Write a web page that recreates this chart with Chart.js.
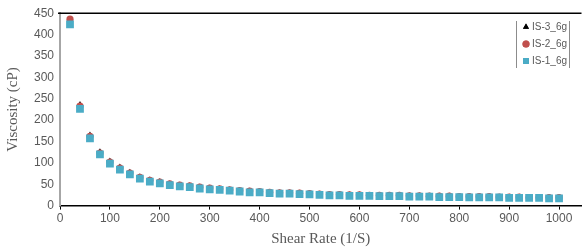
<!DOCTYPE html>
<html>
<head>
<meta charset="utf-8">
<script src="https://cdn.jsdelivr.net/npm/chart.js@4"></script>
<style>
  body { margin: 0; background: #fff; }
</style>
</head>
<body>
<canvas id="myChart" width="587" height="250"></canvas>
<script>
// Shear rate points (1/S)
const shearRates = [20, 40, 60, 80, 100, 120, 140, 160, 180, 200, 220, 240, 260, 280, 300, 320, 340, 360, 380, 400,
    420, 440, 460, 480, 500, 520, 540, 560, 580, 600, 620, 640, 660, 680, 700, 720, 740, 760, 780, 800,
    820, 840, 860, 880, 900, 920, 940, 960, 980, 1000];

// Viscosity (cP) per sample
const is1 = [424, 226, 157, 120, 98, 84, 73, 63, 56, 52, 48, 45, 43, 40, 38, 37, 35, 33, 31, 31,
    29, 28, 28, 27, 26, 25, 24, 24, 23, 23, 23, 22, 22, 22, 21, 21, 21, 20, 20, 20,
    19, 19, 19, 19, 18, 18, 18, 18, 17, 17];
const is2 = [436, 233, 162, 123, 102, 88, 76, 66, 59, 55, 51, 48, 46, 43, 41, 39, 37, 35, 34, 33,
    31, 30, 30, 29, 28, 27, 26, 26, 25, 25, 24, 24, 24, 24, 23, 23, 22, 22, 22, 21,
    21, 21, 21, 20, 20, 20, 19, 19, 19, 19];
const is3 = [434, 236, 165, 126, 104, 90, 78, 67, 60, 56, 51, 48, 46, 43, 41, 39, 37, 35, 34, 33,
    31, 30, 30, 29, 28, 27, 26, 26, 25, 25, 24, 24, 24, 24, 23, 23, 22, 22, 22, 21,
    21, 21, 21, 20, 20, 20, 19, 19, 19, 19];

const seriesNames = ['IS-1_6g', 'IS-2_6g', 'IS-3_6g'];
const xTicks = [0, 100, 200, 300, 400, 500, 600, 700, 800, 900, 1000];

const toPoints = vals => vals.map((v, i) => ({ x: shearRates[i], y: v }));

// Draws the top border and the boxed legend inside the plot
const extras = {
    id: 'extras',
    afterDraw(chart) {
        const ctx = chart.ctx;
        const area = chart.chartArea;
        ctx.save();
        ctx.strokeStyle = '#000';
        ctx.lineWidth = 1.5;
        ctx.beginPath();
        ctx.moveTo(area.left - 2, area.top);
        ctx.lineTo(area.right, area.top);
        ctx.stroke();

        // legend box
        const bx0 = 516, bx1 = 569, by0 = 21, by1 = 68;
        ctx.strokeStyle = '#8c8c8c';
        ctx.lineWidth = 1;
        ctx.beginPath();
        ctx.moveTo(bx0 + 0.5, by0); ctx.lineTo(bx0 + 0.5, by1);
        ctx.moveTo(bx1 + 0.5, by0); ctx.lineTo(bx1 + 0.5, by1);
        ctx.stroke();

        const items = chart.data.datasets.slice().reverse();
        ctx.font = '10px "Liberation Sans"';
        ctx.textBaseline = 'middle';
        items.forEach((ds, i) => {
            const y = 27 + i * 17;
            ctx.fillStyle = ds.backgroundColor;
            Chart.helpers.drawPoint(ctx, {
                pointStyle: ds.pointStyle,
                radius: ds.pointStyle === 'rect' ? 4.2 : 3.5,
                borderWidth: 0
            }, 526, y);
            ctx.fill();
            ctx.fillStyle = '#595959';
            ctx.fillText(ds.label, 532, y);
        });
        ctx.restore();
    }
};

document.addEventListener("DOMContentLoaded", function() {
    const ctx = document.getElementById('myChart').getContext('2d');
    const myChart = new Chart(ctx, {
        type: 'scatter',
        data: {
            datasets: [
                {
                    label: seriesNames[0],
                    data: toPoints(is1),
                    pointStyle: 'rect',
                    pointRadius: 5.5,
                    backgroundColor: '#4bacc6',
                    borderColor: '#4bacc6',
                    borderWidth: 0
                },
                {
                    label: seriesNames[1],
                    data: toPoints(is2),
                    pointStyle: 'circle',
                    pointRadius: 3.6,
                    backgroundColor: '#c0504d',
                    borderColor: '#c0504d',
                    borderWidth: 0
                },
                {
                    label: seriesNames[2],
                    data: toPoints(is3),
                    pointStyle: 'triangle',
                    pointRadius: 3.6,
                    backgroundColor: '#000000',
                    borderColor: '#000000',
                    borderWidth: 0
                }
            ]
        },
        options: {
            responsive: false,
            animation: false,
            layout: { padding: { top: 10, right: 0, left: 4, bottom: 2 } },
            plugins: {
                legend: { display: false },
                tooltip: { enabled: false }
            },
            scales: {
                x: {
                    type: 'linear',
                    min: 0,
                    max: 1045,
                    afterBuildTicks: axis => { axis.ticks = xTicks.map(v => ({ value: v })); },
                    grid: { drawOnChartArea: false, color: '#000', tickLength: 4 },
                    border: { color: '#000', width: 1.5 },
                    ticks: {
                        color: '#595959',
                        font: { family: 'Liberation Sans', size: 12 },
                        padding: 2,
                        maxRotation: 0,
                        callback: v => String(v)
                    },
                    title: {
                        display: true,
                        text: 'Shear Rate (1/S)',
                        color: '#595959',
                        font: { family: 'Liberation Serif', size: 15 },
                        padding: { top: 2, bottom: 0 }
                    }
                },
                y: {
                    min: 0,
                    max: 450,
                    ticks: { stepSize: 50, color: '#595959', font: { family: 'Liberation Sans', size: 12 }, padding: 6 },
                    grid: { drawOnChartArea: false, drawTicks: false },
                    border: { color: '#a6a6a6', width: 2 },
                    title: {
                        display: true,
                        text: 'Viscosity (cP)',
                        color: '#595959',
                        font: { family: 'Liberation Serif', size: 15 },
                        padding: { top: 0, bottom: 6 }
                    }
                }
            }
        },
        plugins: [extras]
    });
});
</script>
</body>
</html>
